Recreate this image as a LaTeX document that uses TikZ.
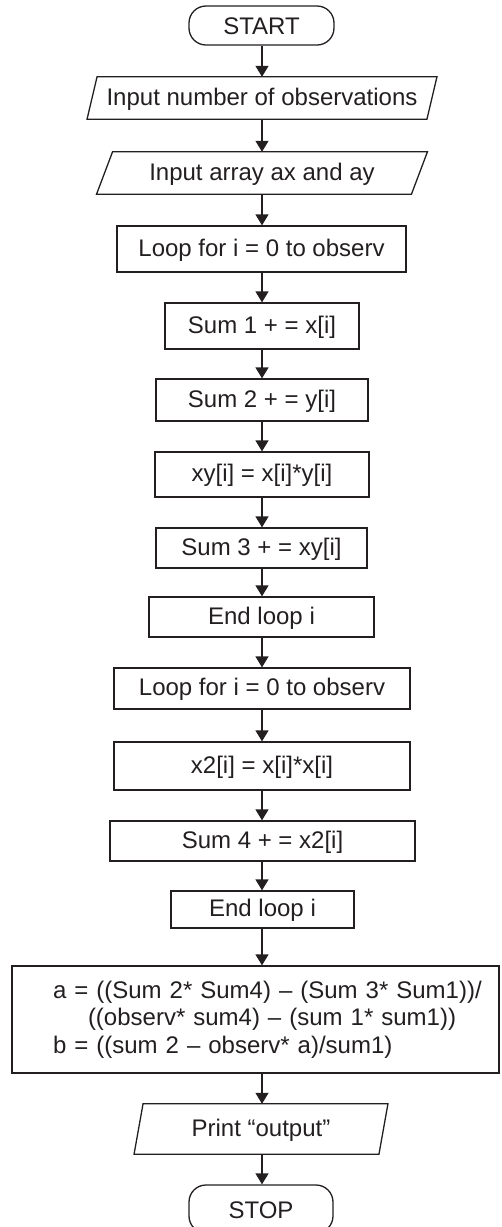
\documentclass[tikz,border=0pt]{standalone}
\usepackage{fontspec}
\setmainfont{Liberation Sans}
\usetikzlibrary{arrows.meta}
\definecolor{ink}{RGB}{35,31,32}
\begin{document}
\begin{tikzpicture}[x=1pt,y=-1pt,
  every node/.style={font=\fontsize{24}{27.5}\selectfont, text=ink},
  box/.style={draw=ink, line width=1.3pt, rectangle, inner sep=0pt, text height=17.5pt, text depth=3.5pt},
  term/.style={box, rounded corners=17pt, text height=18pt, text depth=0pt},
  io/.style={rectangle, inner sep=0pt, text height=17.5pt, text depth=3.5pt},
  flow/.style={draw=ink, line width=1.3pt, -{Triangle[width=13pt,length=11pt]}},
  outline/.style={draw=ink, line width=1.3pt, line join=miter}]
\useasboundingbox (0,0) rectangle (501,1227);

\node[term, minimum width=145pt, minimum height=39pt] (start) at (261.5,25.5) {START};
\node[io, minimum width=339.5pt, minimum height=42pt] (in1) at (262,98) {Input number of observations};
\node[io, minimum width=314.5pt, minimum height=42pt] (in2) at (262,173) {Input array ax and ay};
\node[box, minimum width=289pt, minimum height=46pt] (loop1) at (261.5,249) {Loop for i = 0 to observ};
\node[box, minimum width=194pt, minimum height=46pt] (s1) at (262,326) {Sum 1 + = x[i]};
\node[box, minimum width=212pt, minimum height=42pt] (s2) at (262,400) {Sum 2 + = y[i]};
\node[box, minimum width=214pt, minimum height=45pt] (xy) at (262,474.5) {xy[i] = x[i]*y[i]};
\node[box, minimum width=211pt, minimum height=40pt] (s3) at (261.5,548) {Sum 3 + = xy[i]};
\node[box, minimum width=225pt, minimum height=40pt] (end1) at (261.5,617) {End loop i};
\node[box, minimum width=296pt, minimum height=41pt] (loop2) at (262,688.5) {Loop for i = 0 to observ};
\node[box, minimum width=296pt, minimum height=48pt] (x2) at (262,766) {x2[i] = x[i]*x[i]};
\node[box, minimum width=305pt, minimum height=40pt] (s4) at (262.5,841) {Sum 4 + = x2[i]};
\node[box, minimum width=183pt, minimum height=37pt] (end2) at (262.5,909.5) {End loop i};
\node[draw=ink, line width=1.3pt, rectangle, inner xsep=8.5pt, inner ysep=0pt, text width=470pt, align=left,
      minimum height=107pt] (calc) at (255.5,1019.5)
  {\hspace*{32.5pt}a = ((Sum 2* Sum4) -- (Sum 3* Sum1))/\\
   \hspace*{67.5pt}((observ* sum4) -- (sum 1* sum1))\\
   \hspace*{32.5pt}b = ((sum 2 -- observ* a)/sum1)};
\node[io, minimum width=244.5pt, minimum height=50pt] (out) at (261,1129) {Print “output”};
\node[term, minimum width=144pt, minimum height=48pt] (stop) at (261,1209) {STOP};

% parallelogram outlines
\draw[outline] ([xshift=5pt]in1.north west) -- ([xshift=5pt]in1.north east) -- ([xshift=-5pt]in1.south east) -- ([xshift=-5pt]in1.south west) -- cycle;
\draw[outline] ([xshift=8pt]in2.north west) -- ([xshift=8pt]in2.north east) -- ([xshift=-8pt]in2.south east) -- ([xshift=-8pt]in2.south west) -- cycle;
\draw[outline] ([xshift=4.5pt]out.north west) -- ([xshift=4.5pt]out.north east) -- ([xshift=-4.5pt]out.south east) -- ([xshift=-4.5pt]out.south west) -- cycle;

% connectors
\coordinate (cx) at (262,0);
\foreach \a/\b in {start/in1, in1/in2, in2/loop1, loop1/s1, s1/s2, s2/xy, xy/s3, s3/end1, end1/loop2, loop2/x2, x2/s4, s4/end2, end2/calc, calc/out, out/stop}
  \draw[flow] (cx |- \a.south) -- (cx |- \b.north);
\end{tikzpicture}
\end{document}
